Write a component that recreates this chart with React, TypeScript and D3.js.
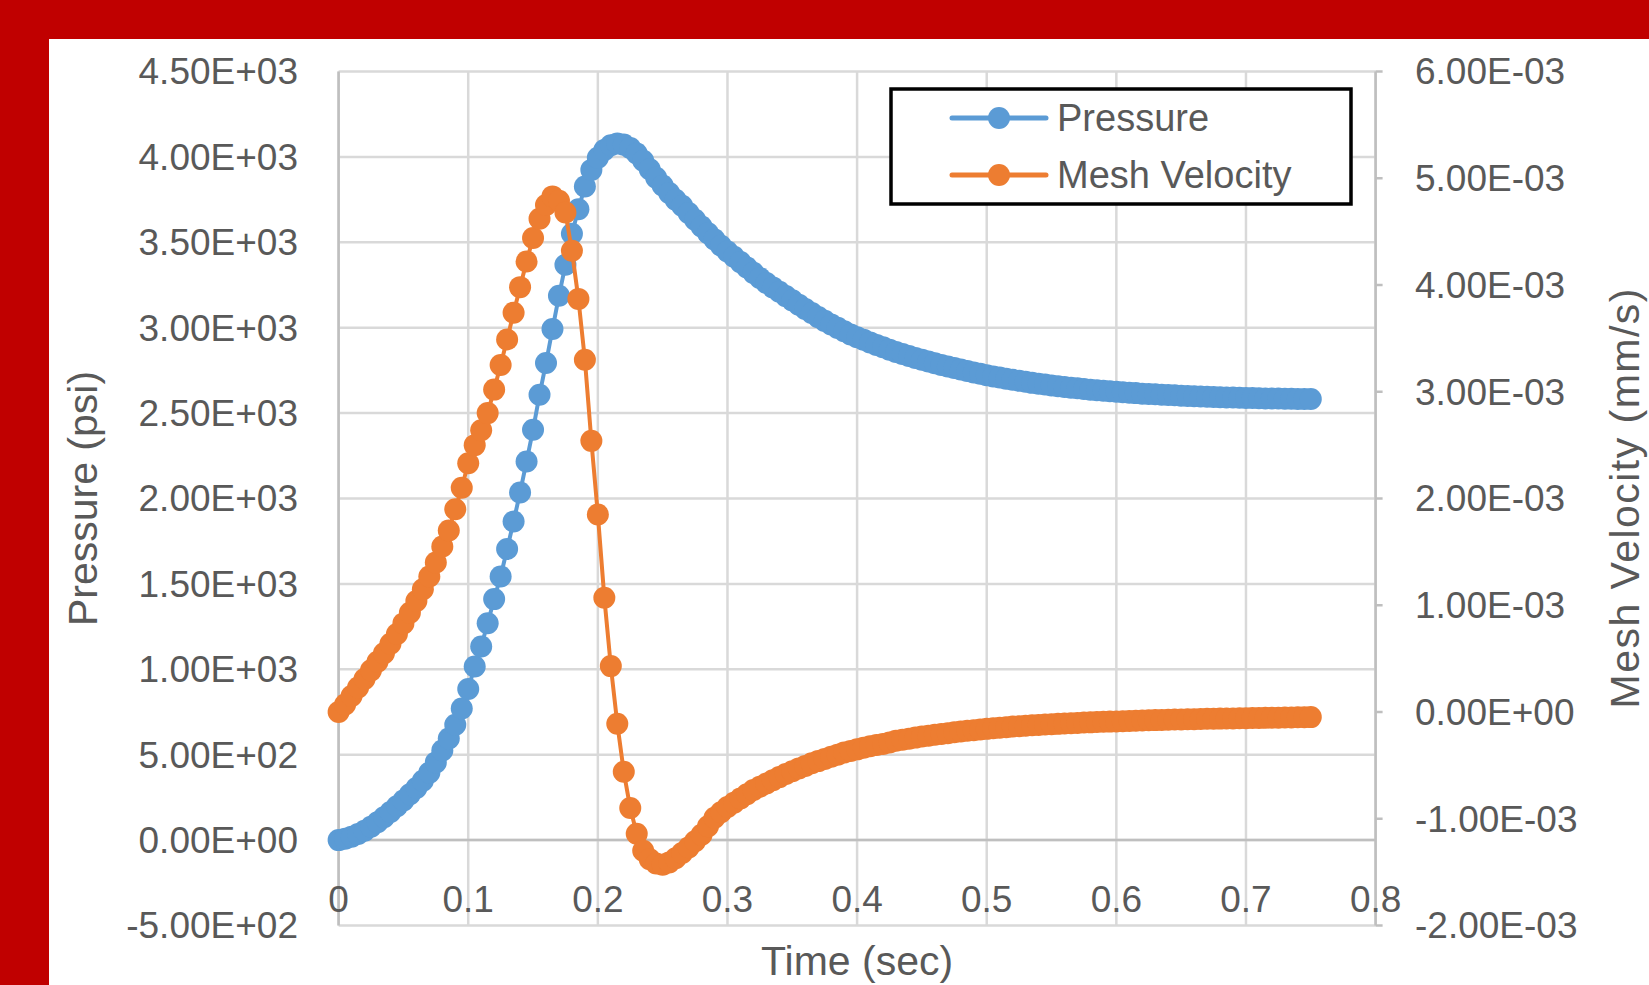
import * as d3 from "d3";

// sample times (sec)
const time = [
  0, 0.005, 0.01, 0.015, 0.02, 0.025, 0.03, 0.035, 0.04, 0.045,
  0.05, 0.055, 0.06, 0.065, 0.07, 0.075, 0.08, 0.085, 0.09, 0.095,
  0.1, 0.105, 0.11, 0.115, 0.12, 0.125, 0.13, 0.135, 0.14, 0.145,
  0.15, 0.155, 0.16, 0.165, 0.17, 0.175, 0.18, 0.185, 0.19, 0.195,
  0.2, 0.205, 0.21, 0.215, 0.22, 0.225, 0.23, 0.235, 0.24, 0.245,
  0.25, 0.255, 0.26, 0.265, 0.27, 0.275, 0.28, 0.285, 0.29, 0.295,
  0.3, 0.305, 0.31, 0.315, 0.32, 0.325, 0.33, 0.335, 0.34, 0.345,
  0.35, 0.355, 0.36, 0.365, 0.37, 0.375, 0.38, 0.385, 0.39, 0.395,
  0.4, 0.405, 0.41, 0.415, 0.42, 0.425, 0.43, 0.435, 0.44, 0.445,
  0.45, 0.455, 0.46, 0.465, 0.47, 0.475, 0.48, 0.485, 0.49, 0.495,
  0.5, 0.505, 0.51, 0.515, 0.52, 0.525, 0.53, 0.535, 0.54, 0.545,
  0.55, 0.555, 0.56, 0.565, 0.57, 0.575, 0.58, 0.585, 0.59, 0.595,
  0.6, 0.605, 0.61, 0.615, 0.62, 0.625, 0.63, 0.635, 0.64, 0.645,
  0.65, 0.655, 0.66, 0.665, 0.67, 0.675, 0.68, 0.685, 0.69, 0.695,
  0.7, 0.705, 0.71, 0.715, 0.72, 0.725, 0.73, 0.735, 0.74, 0.745,
  0.75,
];

// psi
const pressure = [
  0, 8, 20, 36, 55, 78, 104, 134, 165, 198,
  232, 268, 305, 348, 395, 455, 525, 595, 675, 770,
  885, 1016, 1134, 1270, 1411, 1543, 1704, 1865, 2035, 2217,
  2402, 2607, 2793, 2992, 3187, 3368, 3550, 3694, 3827, 3924,
  3995, 4040, 4068, 4078, 4072, 4052, 4020, 3978, 3928, 3878,
  3833, 3789, 3749, 3714, 3672, 3632, 3592, 3553, 3516, 3480,
  3446, 3415, 3384, 3352, 3321, 3291, 3262, 3236, 3210, 3185,
  3160, 3135, 3110, 3086, 3062, 3040, 3019, 2999, 2979, 2960,
  2944, 2929, 2914, 2899, 2885, 2871, 2858, 2846, 2834, 2823,
  2812, 2802, 2792, 2782, 2773, 2764, 2755, 2746, 2738, 2730,
  2722, 2715, 2708, 2701, 2695, 2689, 2683, 2677, 2672, 2667,
  2662, 2657, 2653, 2649, 2645, 2641, 2637, 2634, 2631, 2628,
  2625, 2622, 2619, 2617, 2614, 2612, 2610, 2608, 2606, 2604,
  2602, 2600, 2599, 2597, 2596, 2594, 2593, 2592, 2591, 2590,
  2589, 2588, 2587, 2586, 2586, 2585, 2584, 2584, 2583, 2583,
  2582,
];

// mesh velocity in units of 1E-03 mm/s
const meshVelocity = [
  0.0, 0.07, 0.15, 0.23, 0.31, 0.39, 0.47, 0.55, 0.64, 0.73,
  0.83, 0.93, 1.04, 1.15, 1.27, 1.4, 1.55, 1.7, 1.9, 2.1,
  2.33, 2.5, 2.64, 2.8, 3.02, 3.25, 3.49, 3.74, 3.98, 4.22,
  4.44, 4.62, 4.75, 4.83, 4.79, 4.68, 4.32, 3.87, 3.3, 2.54,
  1.85, 1.07, 0.43, -0.11, -0.56, -0.9, -1.14, -1.3, -1.38, -1.42,
  -1.43, -1.41, -1.37, -1.32, -1.27, -1.21, -1.15, -1.07, -0.99, -0.94,
  -0.89, -0.85, -0.81, -0.77, -0.73, -0.7, -0.67, -0.64, -0.61, -0.58,
  -0.555, -0.53, -0.505, -0.48, -0.46, -0.44, -0.42, -0.4, -0.38, -0.365,
  -0.35, -0.335, -0.32, -0.31, -0.3, -0.285, -0.27, -0.26, -0.25, -0.24,
  -0.23, -0.222, -0.214, -0.206, -0.198, -0.19, -0.183, -0.176, -0.17, -0.164,
  -0.158, -0.152, -0.147, -0.142, -0.137, -0.133, -0.129, -0.125, -0.121, -0.117,
  -0.114, -0.111, -0.108, -0.105, -0.102, -0.099, -0.097, -0.094, -0.092, -0.09,
  -0.088, -0.086, -0.084, -0.082, -0.08, -0.078, -0.076, -0.075, -0.073, -0.071,
  -0.07, -0.068, -0.067, -0.066, -0.064, -0.063, -0.062, -0.061, -0.06, -0.059,
  -0.058, -0.057, -0.056, -0.055, -0.054, -0.053, -0.052, -0.051, -0.05, -0.049,
  -0.048,
];

const leftTicks = [-500, 0, 500, 1000, 1500, 2000, 2500, 3000, 3500, 4000, 4500];
const leftLabels = [
  "-5.00E+02", "0.00E+00", "5.00E+02", "1.00E+03", "1.50E+03", "2.00E+03",
  "2.50E+03", "3.00E+03", "3.50E+03", "4.00E+03", "4.50E+03",
];
const rightTicks = [-2, -1, 0, 1, 2, 3, 4, 5, 6];
const rightLabels = [
  "-2.00E-03", "-1.00E-03", "0.00E+00", "1.00E-03", "2.00E-03",
  "3.00E-03", "4.00E-03", "5.00E-03", "6.00E-03",
];
const xTicks = [0, 0.1, 0.2, 0.3, 0.4, 0.5, 0.6, 0.7, 0.8];
const xLabels = ["0", "0.1", "0.2", "0.3", "0.4", "0.5", "0.6", "0.7", "0.8"];

const BLUE = "#5b9bd5";
const ORANGE = "#ed7d31";
const TXT = "#595959";
const FONT = "'Liberation Sans', Arial, sans-serif";

export default function App() {
  const width = 1649;
  const height = 985;
  const plot = { left: 338.6, right: 1375.6, top: 71.5, bottom: 925.5 };

  const x = d3.scaleLinear().domain([0, 0.8]).range([plot.left, plot.right]);
  const yL = d3.scaleLinear().domain([-500, 4500]).range([plot.bottom, plot.top]);
  const yR = d3.scaleLinear().domain([-2, 6]).range([plot.bottom, plot.top]);

  const pData = time.map((t, i) => [t, pressure[i]] as [number, number]);
  const vData = time.map((t, i) => [t, meshVelocity[i]] as [number, number]);

  const pLine = d3.line<[number, number]>().x((d) => x(d[0])).y((d) => yL(d[1]));
  const vLine = d3.line<[number, number]>().x((d) => x(d[0])).y((d) => yR(d[1]));

  const r = 11;
  const midY = (plot.top + plot.bottom) / 2;

  return (
    <div style={{ position: "absolute", left: 0, top: 0 }}>
      <svg width={width} height={height} style={{ display: "block" }}>
        <rect x={0} y={0} width={width} height={height} fill="#c00000" />
        <rect x={49} y={39} width={width - 49} height={height - 39} fill="#ffffff" />

        {/* gridlines */}
        {leftTicks.map((t) => (
          <line key={"h" + t} x1={plot.left} x2={plot.right} y1={yL(t)} y2={yL(t)}
            stroke="#d9d9d9" strokeWidth={2.5} />
        ))}
        {xTicks.map((t) => (
          <line key={"v" + t} x1={x(t)} x2={x(t)} y1={plot.top} y2={plot.bottom}
            stroke="#d9d9d9" strokeWidth={2.5} />
        ))}

        {/* axis lines */}
        <line x1={plot.left} x2={plot.right} y1={yL(0)} y2={yL(0)} stroke="#bfbfbf" strokeWidth={2.5} />
        <line x1={x(0)} x2={x(0)} y1={plot.top} y2={plot.bottom} stroke="#bfbfbf" strokeWidth={2.5} />
        <line x1={plot.right} x2={plot.right} y1={plot.top} y2={plot.bottom} stroke="#bfbfbf" strokeWidth={2.5} />
        {rightTicks.map((t) => (
          <line key={"rt" + t} x1={plot.right} x2={plot.right + 7} y1={yR(t)} y2={yR(t)}
            stroke="#bfbfbf" strokeWidth={2.5} />
        ))}

        {/* tick labels */}
        <g fontFamily={FONT} fontSize={37} fill={TXT}>
          {leftTicks.map((t, i) => (
            <text key={"lt" + t} x={298} y={yL(t)} dy="0.35em" textAnchor="end">
              {leftLabels[i]}
            </text>
          ))}
          {rightTicks.map((t, i) => (
            <text key={"rl" + t} x={1415} y={yR(t)} dy="0.35em" textAnchor="start">
              {rightLabels[i]}
            </text>
          ))}
          {xTicks.map((t, i) => (
            <text key={"xl" + t} x={x(t)} y={899} dy="0.35em" textAnchor="middle">
              {xLabels[i]}
            </text>
          ))}
        </g>

        {/* axis titles */}
        <g fontFamily={FONT} fontSize={41} fill={TXT}>
          <text x={(plot.left + plot.right) / 2} y={975} textAnchor="middle" textLength={192}>
            Time (sec)
          </text>
          <text transform={`translate(97, ${midY}) rotate(-90)`} textAnchor="middle">
            Pressure (psi)
          </text>
          <text transform={`translate(1639, ${midY}) rotate(-90)`} textAnchor="middle"
            textLength={420} lengthAdjust="spacing">
            Mesh Velocity (mm/s)
          </text>
        </g>

        {/* Pressure series */}
        <path d={pLine(pData) || ""} fill="none" stroke={BLUE} strokeWidth={4} strokeLinejoin="round" />
        {pData.map((d, i) => (
          <circle key={"p" + i} cx={x(d[0])} cy={yL(d[1])} r={r} fill={BLUE} />
        ))}

        {/* Mesh velocity series */}
        <path d={vLine(vData) || ""} fill="none" stroke={ORANGE} strokeWidth={4} strokeLinejoin="round" />
        {vData.map((d, i) => (
          <circle key={"v" + i} cx={x(d[0])} cy={yR(d[1])} r={r} fill={ORANGE} />
        ))}

        {/* legend */}
        <rect x={891} y={89} width={460} height={115} fill="#ffffff" stroke="#000000" strokeWidth={3.5} />
        <line x1={952} x2={1046} y1={118} y2={118} stroke={BLUE} strokeWidth={5} strokeLinecap="round" />
        <circle cx={999} cy={118} r={r} fill={BLUE} />
        <line x1={952} x2={1046} y1={175} y2={175} stroke={ORANGE} strokeWidth={5} strokeLinecap="round" />
        <circle cx={999} cy={175} r={r} fill={ORANGE} />
        <g fontFamily={FONT} fontSize={38} fill={TXT}>
          <text x={1057} y={118} dy="0.35em">Pressure</text>
          <text x={1057} y={175} dy="0.35em">Mesh Velocity</text>
        </g>
      </svg>
    </div>
  );
}
